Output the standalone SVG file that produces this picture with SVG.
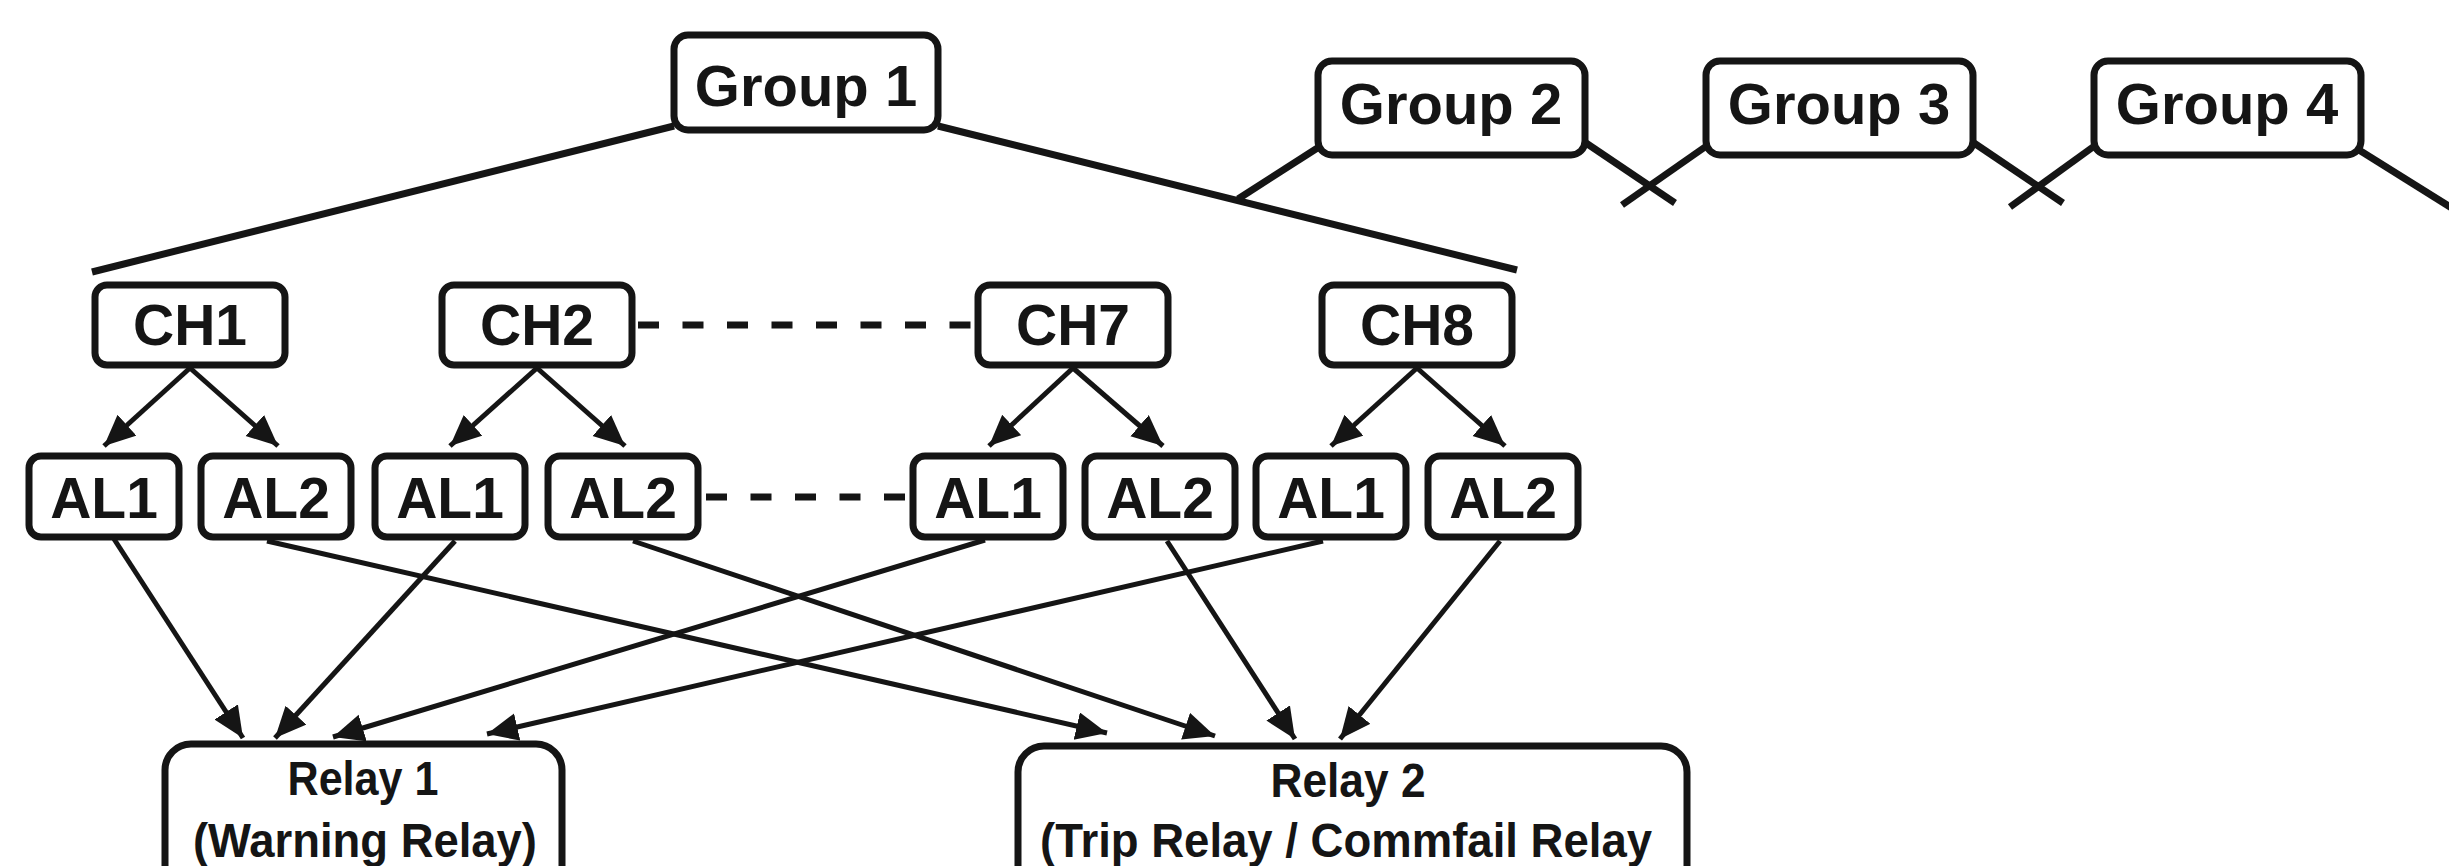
<svg xmlns="http://www.w3.org/2000/svg" width="2449" height="866" viewBox="0 0 2449 866">
<style>
.box{fill:#fff;stroke:#151515;stroke-width:7}
.t{font-family:"Liberation Sans",Arial,sans-serif;font-weight:bold;fill:#151515;text-anchor:middle}
.big{font-size:58px}
.mid{font-size:57px}
.rel{font-size:48px}
.ln{stroke:#151515;fill:none;stroke-linecap:butt}
.g{stroke-width:7}
.a{stroke-width:5}
.d{stroke-width:7;stroke-dasharray:21 23.5}
</style>
<defs>
<marker id="ah" markerUnits="userSpaceOnUse" markerWidth="34" markerHeight="30" refX="31" refY="14" orient="auto">
<path d="M0,0 L31,14 L0,28 z" fill="#151515"/>
</marker>
</defs>
<g id="connectors">
<line class="ln g" x1="674" y1="126" x2="92" y2="272"/>
<line class="ln g" x1="938" y1="126" x2="1517" y2="270"/>
<line class="ln g" x1="1319" y1="147" x2="1238" y2="199"/>
<line class="ln g" x1="1586" y1="143" x2="1675" y2="203"/>
<line class="ln g" x1="1705" y1="147" x2="1622" y2="205"/>
<line class="ln g" x1="1974" y1="143" x2="2063" y2="203"/>
<line class="ln g" x1="2093" y1="147" x2="2010" y2="207"/>
<line class="ln g" x1="2359" y1="150" x2="2455" y2="210"/>
<line class="ln d" x1="638" y1="325" x2="976" y2="325"/>
<line class="ln d" x1="706" y1="497" x2="911" y2="497"/>
<line class="ln a" x1="190" y1="368" x2="104" y2="446" marker-end="url(#ah)"/>
<line class="ln a" x1="190" y1="368" x2="278" y2="446" marker-end="url(#ah)"/>
<line class="ln a" x1="537" y1="368" x2="450" y2="446" marker-end="url(#ah)"/>
<line class="ln a" x1="537" y1="368" x2="625" y2="446" marker-end="url(#ah)"/>
<line class="ln a" x1="1073" y1="368" x2="989" y2="446" marker-end="url(#ah)"/>
<line class="ln a" x1="1073" y1="368" x2="1163" y2="446" marker-end="url(#ah)"/>
<line class="ln a" x1="1417" y1="368" x2="1331" y2="446" marker-end="url(#ah)"/>
<line class="ln a" x1="1417" y1="368" x2="1505" y2="446" marker-end="url(#ah)"/>
<line class="ln a" x1="114" y1="539" x2="243" y2="738" marker-end="url(#ah)"/>
<line class="ln a" x1="455" y1="541" x2="275" y2="738" marker-end="url(#ah)"/>
<line class="ln a" x1="985" y1="540" x2="333" y2="737" marker-end="url(#ah)"/>
<line class="ln a" x1="1323" y1="541" x2="487" y2="734" marker-end="url(#ah)"/>
<line class="ln a" x1="267" y1="541" x2="1107" y2="733" marker-end="url(#ah)"/>
<line class="ln a" x1="633" y1="541" x2="1215" y2="736" marker-end="url(#ah)"/>
<line class="ln a" x1="1167" y1="541" x2="1295" y2="739" marker-end="url(#ah)"/>
<line class="ln a" x1="1500" y1="541" x2="1340" y2="739" marker-end="url(#ah)"/>
</g>
<g id="group1"><rect class="box" x="674" y="35" width="264" height="95" rx="14"/><text class="t big" x="806" y="106">Group 1</text></g>
<g id="group2"><rect class="box" x="1318" y="61" width="267" height="94" rx="14"/><text class="t big" x="1451" y="124">Group 2</text></g>
<g id="group3"><rect class="box" x="1706" y="61" width="267" height="94" rx="14"/><text class="t big" x="1839" y="124">Group 3</text></g>
<g id="group4"><rect class="box" x="2094" y="61" width="267" height="94" rx="14"/><text class="t big" x="2227" y="124">Group 4</text></g>
<g id="ch1"><rect class="box" x="95" y="285" width="190" height="80" rx="12"/><text class="t mid" x="190" y="345">CH1</text></g>
<g id="ch2"><rect class="box" x="442" y="285" width="190" height="80" rx="12"/><text class="t mid" x="537" y="345">CH2</text></g>
<g id="ch7"><rect class="box" x="978" y="285" width="190" height="80" rx="12"/><text class="t mid" x="1073" y="345">CH7</text></g>
<g id="ch8"><rect class="box" x="1322" y="285" width="190" height="80" rx="12"/><text class="t mid" x="1417" y="345">CH8</text></g>
<g id="ch1-al1"><rect class="box" x="29" y="456" width="150" height="81" rx="12"/><text class="t mid" x="104" y="518">AL1</text></g>
<g id="ch1-al2"><rect class="box" x="201" y="456" width="150" height="81" rx="12"/><text class="t mid" x="276" y="518">AL2</text></g>
<g id="ch2-al1"><rect class="box" x="375" y="456" width="150" height="81" rx="12"/><text class="t mid" x="450" y="518">AL1</text></g>
<g id="ch2-al2"><rect class="box" x="548" y="456" width="150" height="81" rx="12"/><text class="t mid" x="623" y="518">AL2</text></g>
<g id="ch7-al1"><rect class="box" x="913" y="456" width="150" height="81" rx="12"/><text class="t mid" x="988" y="518">AL1</text></g>
<g id="ch7-al2"><rect class="box" x="1085" y="456" width="150" height="81" rx="12"/><text class="t mid" x="1160" y="518">AL2</text></g>
<g id="ch8-al1"><rect class="box" x="1256" y="456" width="150" height="81" rx="12"/><text class="t mid" x="1331" y="518">AL1</text></g>
<g id="ch8-al2"><rect class="box" x="1428" y="456" width="150" height="81" rx="12"/><text class="t mid" x="1503" y="518">AL2</text></g>
<g id="relay1"><rect class="box" x="165" y="744" width="397" height="200" rx="26"/><text class="t rel" x="363" y="795" textLength="151" lengthAdjust="spacingAndGlyphs">Relay 1</text><text class="t rel" x="365" y="857" textLength="344" lengthAdjust="spacingAndGlyphs">(Warning Relay)</text></g>
<g id="relay2"><rect class="box" x="1018" y="746" width="669" height="200" rx="26"/><text class="t rel" x="1348" y="797" textLength="155" lengthAdjust="spacingAndGlyphs">Relay 2</text><text class="t rel" x="1346" y="857" textLength="612" lengthAdjust="spacingAndGlyphs">(Trip Relay / Commfail Relay</text></g>
</svg>
